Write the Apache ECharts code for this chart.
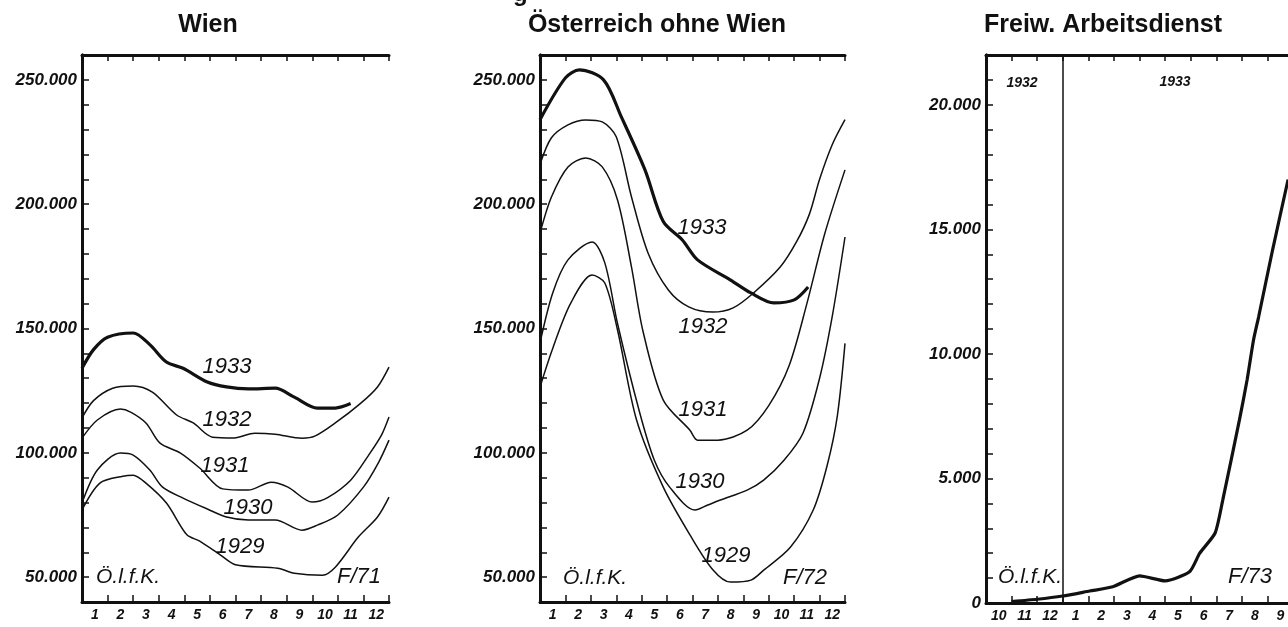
<!DOCTYPE html>
<html>
<head>
<meta charset="utf-8">
<script src="https://cdn.jsdelivr.net/npm/echarts@6/dist/echarts.min.js"></script>
<style>
html, body { margin: 0; padding: 0; background: #fff; }
#chart { width: 1288px; height: 627px; }
</style>
</head>
<body>
<div id="chart"></div>
<script>
// month labels of the strip under each panel
var monthLabels = ['1', '2', '3', '4', '5', '6', '7', '8', '9', '10', '11', '12'];
var fadLabels = ['10', '11', '12', '1', '2', '3', '4', '5', '6', '7', '8', '9', '10', '11', '12'];

// Wien: [month position, persons]
var wien1933 = [[0, 134000], [0.45, 141500], [1, 146500], [2, 148200], [2.65, 143500], [3.3, 136500], [3.95, 134000], [4.9, 128500], [5.65, 126500], [6.5, 125700], [7.55, 126000], [8.3, 122400], [9.2, 118000], [9.9, 118000], [10.5, 119800]];
var wien1932 = [[0, 114000], [0.45, 121000], [1.2, 126000], [2, 126900], [2.75, 124400], [3.7, 115200], [4.35, 112000], [5.1, 106300], [5.95, 106000], [6.75, 107900], [7.55, 107500], [8.6, 105900], [9.1, 106700], [9.9, 112000], [10.9, 120000], [11.55, 126500], [12, 134500]];
var wien1931 = [[0, 105900], [0.6, 113200], [1.5, 117600], [1.9, 116400], [2.5, 112000], [3.05, 103900], [3.85, 99900], [4.6, 93900], [5.5, 85500], [6.5, 85000], [7.4, 88200], [8.05, 86200], [9, 80200], [9.6, 82000], [10.5, 89000], [11.2, 99000], [11.7, 107000], [12, 114400]];
var wien1930 = [[0, 79800], [0.6, 93100], [1.5, 99900], [2, 99100], [2.65, 93100], [3.15, 86200], [3.95, 81800], [4.9, 77400], [5.65, 74200], [6.5, 73000], [7.55, 73000], [8.6, 68900], [9.2, 70900], [10, 75000], [11, 86200], [11.6, 96300], [12, 105100]];
var wien1929 = [[0, 77000], [0.7, 87800], [1.6, 90600], [2, 91000], [2.5, 87800], [3.3, 79800], [4.1, 67000], [4.6, 64500], [5.4, 59000], [6, 55000], [7.65, 53600], [8.3, 51600], [9.4, 50800], [9.9, 54000], [10.8, 66100], [11.55, 74200], [12, 82200]];

// Österreich ohne Wien
var oe1933 = [[0, 234000], [1, 250800], [1.55, 254000], [2.5, 250000], [3.2, 235100], [4.13, 213800], [4.85, 193000], [5.6, 185600], [6.2, 177600], [7.5, 169500], [8.3, 164300], [9.2, 160300], [10, 161500], [10.55, 166700]];
var oe1932 = [[0, 216000], [0.45, 226700], [1.1, 231900], [1.8, 233900], [2.45, 233100], [3, 227100], [3.6, 202900], [4.25, 180400], [5.05, 165500], [5.85, 158700], [6.8, 156600], [7.6, 158300], [8.4, 164300], [9.45, 174700], [10.1, 185000], [10.6, 196000], [11, 210000], [11.5, 224000], [12, 234000]];
var oe1931 = [[0, 188400], [0.45, 202900], [1.1, 215000], [1.8, 218600], [2.45, 215000], [3.05, 201700], [3.6, 174700], [4.05, 149000], [4.85, 121200], [5.9, 109100], [6.2, 105100], [7, 105100], [8.15, 109100], [9, 119000], [9.8, 135000], [10.5, 160000], [11.2, 188000], [12, 213800]];
var oe1930 = [[0, 144200], [0.5, 164300], [1.1, 177600], [2.05, 184800], [2.55, 176400], [3.05, 152000], [3.9, 117000], [4.5, 97000], [5.1, 86200], [6.1, 77000], [6.6, 79000], [7.1, 81000], [8.15, 85000], [8.8, 89000], [9.6, 97000], [10.35, 108000], [11, 130000], [11.5, 155000], [12, 186800]];
var oe1929 = [[0, 126500], [0.5, 142000], [1.2, 160000], [2.05, 171500], [2.55, 168300], [3.05, 149400], [3.8, 113200], [4.85, 86200], [5.9, 67000], [6.8, 53000], [7.5, 48000], [8.3, 48800], [8.8, 52800], [9.85, 62000], [10.75, 77000], [11.3, 95000], [11.7, 115000], [12, 144000]];

// Freiw. Arbeitsdienst, months from Oct 1932
var fad = [[1, 60], [2, 150], [3, 280], [4.05, 480], [4.95, 650], [6, 1090], [7, 890], [7.95, 1250], [8.35, 2000], [8.95, 2810], [9.25, 4140], [9.9, 7350], [10.2, 8960], [10.45, 10560], [10.65, 11490], [11.2, 14200], [11.8, 17000]];
var yearBreak = 3;

var myChart = echarts.init(document.getElementById('chart'));

var black = '#111';
var labelFont = { color: black, fontFamily: 'Liberation Sans', fontStyle: 'italic', fontWeight: 'bold' };

function fmt(step) {
	return function (v) {
		if (v === 0) return '0';
		if (v % step === 0) return (v / 1000) + '.000';
		return '';
	};
}

// third panel runs on past the right edge of the picture
var grids = [
	{ left: 82, top: 55, width: 307, height: 547, outerBoundsMode: 'none' },
	{ left: 540, top: 55, width: 305, height: 547, outerBoundsMode: 'none' },
	{ left: 986, top: 55, width: 384, height: 548, outerBoundsMode: 'none' }
];
var xAxes = [], yAxes = [];

function addAxes(g, labels, yMin, yMax, yStep, labelStep) {
	var n = labels.length;
	xAxes.push({
		type: 'value', gridIndex: g, position: 'bottom', min: 0, max: n, interval: 1,
		axisLine: { lineStyle: { color: black, width: 3 } },
		axisTick: { inside: true, length: 7, lineStyle: { color: black, width: 1.5 } },
		axisLabel: { show: false }, splitLine: { show: false }
	});
	xAxes.push({
		type: 'category', gridIndex: g, position: 'bottom', data: labels, boundaryGap: true,
		axisLine: { show: false },
		axisTick: { length: 30, interval: 0, lineStyle: { color: black, width: 1.5 } },
		axisLabel: Object.assign({ interval: 0, fontSize: 14, margin: 6 }, labelFont),
		splitLine: { show: false }
	});
	xAxes.push({
		type: 'value', gridIndex: g, position: 'top', min: 0, max: n, interval: 1,
		axisLine: { lineStyle: { color: black, width: 3 } },
		axisTick: { inside: true, length: 6, lineStyle: { color: black, width: 1.5 } },
		axisLabel: { show: false }, splitLine: { show: false }
	});
	yAxes.push({
		type: 'value', gridIndex: g, position: 'left', min: yMin, max: yMax, interval: yStep,
		axisLine: { lineStyle: { color: black, width: 3 } },
		axisTick: { inside: true, length: 7, lineStyle: { color: black, width: 1.5 } },
		axisLabel: Object.assign({ fontSize: 17, margin: 5, formatter: fmt(labelStep) }, labelFont),
		splitLine: { show: false }
	});
	yAxes.push({
		type: 'value', gridIndex: g, position: 'right', min: yMin, max: yMax,
		axisLine: { lineStyle: { color: black, width: 3 } },
		axisTick: { show: false }, axisLabel: { show: false }, splitLine: { show: false }
	});
}
addAxes(0, monthLabels, 40000, 260000, 10000, 50000);
addAxes(1, monthLabels, 40000, 260000, 10000, 50000);
addAxes(2, fadLabels, 0, 22000, 1000, 5000);

function line(g, data, width) {
	return {
		type: 'line', xAxisIndex: g * 3, yAxisIndex: g * 2, data: data,
		smooth: 0.3, showSymbol: false, symbol: 'none',
		lineStyle: { color: black, width: width }
	};
}

var series = [
	line(0, wien1933, 3.2), line(0, wien1932, 1.5), line(0, wien1931, 1.5), line(0, wien1930, 1.5), line(0, wien1929, 1.5),
	line(1, oe1933, 3.2), line(1, oe1932, 1.5), line(1, oe1931, 1.5), line(1, oe1930, 1.5), line(1, oe1929, 1.5)
];
var fadLine = line(2, fad, 3.2);
fadLine.smooth = 0.2;
fadLine.markLine = {
	silent: true, symbol: 'none', label: { show: false },
	lineStyle: { color: black, width: 1.5, type: 'solid' },
	data: [{ xAxis: yearBreak }]
};
series.push(fadLine);

function txt(x, y, s, size, align, weight) {
	return {
		type: 'text', x: x, y: y,
		style: {
			text: s, fill: black, align: align || 'center', verticalAlign: 'middle',
			font: 'italic ' + (weight || 'normal') + ' ' + size + 'px "Liberation Sans"'
		}
	};
}
function title(x, s) {
	return {
		type: 'text', x: x, y: 25,
		style: { text: s, fill: black, align: 'center', verticalAlign: 'middle', font: 'bold 25px "Liberation Sans"' }
	};
}

var graphics = [
	title(208, 'Wien'),
	title(657, 'Österreich ohne Wien'),
	title(1103, 'Freiw. Arbeitsdienst'),
	{ type: 'text', x: 513, y: -18, style: { text: 'g', fill: black, font: 'bold 24px "Liberation Sans"' } },
	txt(227, 367, '1933', 22), txt(227, 420, '1932', 22), txt(225, 466, '1931', 22),
	txt(248, 508, '1930', 22), txt(240, 547, '1929', 22),
	txt(96, 577, 'Ö.l.f.K.', 21, 'left'), txt(359, 577, 'F/71', 22),
	txt(702, 228, '1933', 22), txt(703, 327, '1932', 22), txt(703, 410, '1931', 22),
	txt(700, 482, '1930', 22), txt(726, 556, '1929', 22),
	txt(563, 578, 'Ö.l.f.K.', 21, 'left'), txt(805, 578, 'F/72', 22),
	txt(1022, 83, '1932', 14, 'center', 'bold'), txt(1175, 82, '1933', 14, 'center', 'bold'),
	txt(998, 577, 'Ö.l.f.K.', 21, 'left'), txt(1250, 577, 'F/73', 22)
];

var option = {
	backgroundColor: '#fff',
	animation: false,
	grid: grids,
	xAxis: xAxes,
	yAxis: yAxes,
	series: series,
	graphic: graphics
};
myChart.setOption(option);
</script>
</body>
</html>
